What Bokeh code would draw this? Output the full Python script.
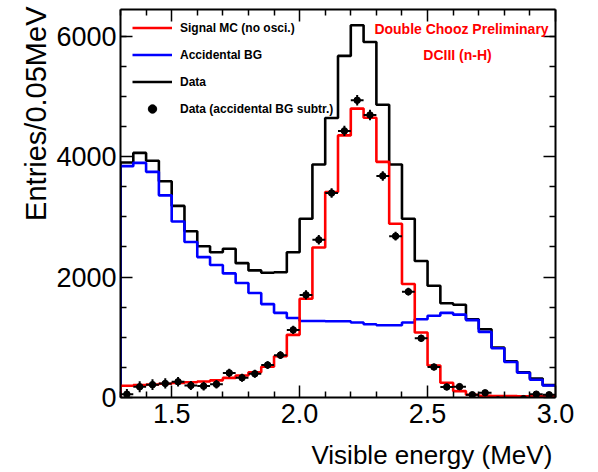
import numpy as np
from bokeh.plotting import figure
from bokeh.models import (Range1d, FixedTicker, LinearAxis, Label, Legend, LegendItem,
                          NumeralTickFormatter, ColumnDataSource, Title)
from bokeh.embed import file_html
from bokeh.resources import INLINE

# ---------------- data ----------------
bin_edges = [1.30, 1.35, 1.40, 1.45, 1.50, 1.55, 1.60, 1.65, 1.70, 1.75, 1.80, 1.85,
             1.90, 1.95, 2.00, 2.05, 2.10, 2.15, 2.20, 2.25, 2.30, 2.35, 2.40, 2.45,
             2.50, 2.55, 2.60, 2.65, 2.70, 2.75, 2.80, 2.85, 2.90, 2.95, 3.00]

data_counts = [3900, 4060, 3930, 3590, 3180, 2760, 2510, 2410, 2470, 2230, 2110, 2070,
               2080, 2410, 2967, 3867, 4640, 5670, 6178, 5900, 4860, 3867, 2967, 2265,
               1856, 1565, 1539, 1300, 1133, 830, 600, 420, 315, 205]

accidental_bg = [3840, 3895, 3745, 3355, 2920, 2580, 2330, 2200, 2060, 1900, 1735, 1550,
                 1405, 1320, 1270, 1270, 1265, 1265, 1245, 1215, 1200, 1200, 1244, 1300,
                 1356, 1405, 1375, 1285, 1089, 817, 590, 411, 295, 200]

signal_mc = [195, 205, 215, 228, 240, 252, 265, 285, 325, 365, 420, 510,
             685, 1040, 1640, 2489, 3411, 4350, 4795, 4644, 3911, 2883, 1883, 1078,
             530, 245, 106, 45, 30, 25, 22, 20, 20, 20]

data_subtracted = [55, 178, 213, 233, 261, 200, 189, 220, 408, 328, 394, 539,
                   703, 1122, 1703, 2617, 3394, 4425, 4933, 4689, 3678, 2678, 1756, 983,
                   506, 175, 180, 45, 78, -40, -60, -20, 55, 45]

data_subtracted_err = [88, 90, 89, 85, 80, 75, 71, 70, 70, 67, 65, 64,
                       65, 70, 77, 79, 80, 85, 88, 86, 79, 72, 65, 58,
                       55, 53, 53, 51, 48, 42, 35, 29, 25, 20]

x_major_ticks = [1.5, 2.0, 2.5, 3.0]
x_minor_ticks = [1.3, 1.4, 1.6, 1.7, 1.8, 1.9, 2.1, 2.2, 2.3, 2.4, 2.6, 2.7, 2.8, 2.9]
y_major_ticks = [0, 2000, 4000, 6000]
y_minor_ticks = [500, 1000, 1500, 2500, 3000, 3500, 4500, 5000, 5500, 6000]

legend_labels = ["Signal MC (no osci.)", "Accidental BG", "Data", "Data (accidental BG subtr.)"]
x_title = "Visible energy (MeV)"
y_title = "Entries/0.05MeV"

FONT = "Liberation Sans"

# ---------------- helpers ----------------
def step_xy(edges, vals):
    xs = [edges[0]]
    ys = [0]
    for i, v in enumerate(vals):
        xs += [edges[i], edges[i + 1]]
        ys += [v, v]
    return xs, ys

centers = [(bin_edges[i] + bin_edges[i + 1]) / 2 for i in range(len(bin_edges) - 1)]
half_w = [(bin_edges[i + 1] - bin_edges[i]) / 2 for i in range(len(bin_edges) - 1)]

# ---------------- figure ----------------
p = figure(width=598, height=472, output_backend="svg", toolbar_location=None,
           x_range=Range1d(1.3, 3.0), y_range=Range1d(0, 6440),
           min_border_left=120, min_border_right=43, min_border_top=9, min_border_bottom=74,
           title=None)
p.grid.visible = False
p.outline_line_color = None
p.background_fill_color = "white"
p.border_fill_color = "white"

def style_axis(ax, ticks, minor, show_labels):
    ax.ticker = FixedTicker(ticks=ticks, minor_ticks=minor)
    ax.axis_line_color = "black"
    ax.axis_line_width = 2
    ax.major_tick_line_color = "black"
    ax.minor_tick_line_color = "black"
    ax.major_tick_line_width = 1.5
    ax.minor_tick_line_width = 1.5
    ax.major_tick_out = 0
    ax.minor_tick_out = 0
    ax.major_tick_in = 12
    ax.minor_tick_in = 6
    if show_labels:
        ax.major_label_text_font = FONT
        ax.major_label_text_font_size = "27px"
        ax.major_label_text_color = "black"
    else:
        ax.major_label_overrides = {t: "" for t in ticks}
        ax.major_label_text_font_size = "0px"
        ax.major_label_standoff = 0

xa = p.xaxis[0]
style_axis(xa, x_major_ticks, x_minor_ticks, True)
xa.formatter = NumeralTickFormatter(format="0.0")
xa.major_label_standoff = 6
style_axis(p.yaxis[0], y_major_ticks, y_minor_ticks, True)
p.yaxis[0].major_label_standoff = 4

top_ax = LinearAxis()
style_axis(top_ax, x_major_ticks, x_minor_ticks, False)
p.add_layout(top_ax, "above")
right_ax = LinearAxis()
style_axis(right_ax, y_major_ticks, y_minor_ticks, False)
p.add_layout(right_ax, "right")

# x-axis title: centred label padded on its left with no-break spaces so that
# the visible words end at the frame's right edge, as in the reference
xa.axis_label = "\u00a0" * 26 + x_title
xa.axis_label_align = "center"
xa.axis_label_text_font = FONT
xa.axis_label_text_font_style = "normal"
xa.axis_label_text_font_size = "26px"
xa.axis_label_text_color = "black"
xa.axis_label_standoff = 14

p.add_layout(Title(text=y_title, align="right", text_font=FONT,
                   text_font_style="normal", text_font_size="29px", text_color="black",
                   standoff=3, offset=-3), "left")

# ---------------- histograms ----------------
bx, by = step_xy(bin_edges, data_counts)
r_black = p.line(bx, by, line_color="black", line_width=2.6)
ax_, ay_ = step_xy(bin_edges, accidental_bg)
r_blue = p.line(ax_, ay_, line_color="#0000ff", line_width=2.6)
sx_, sy_ = step_xy(bin_edges, signal_mc)
r_red = p.line(sx_, sy_, line_color="#ff0000", line_width=2.6)

pts = ColumnDataSource(dict(
    x=centers, y=data_subtracted,
    x0=[c - h for c, h in zip(centers, half_w)], x1=[c + h for c, h in zip(centers, half_w)],
    y0=[v - e for v, e in zip(data_subtracted, data_subtracted_err)],
    y1=[v + e for v, e in zip(data_subtracted, data_subtracted_err)],
))
p.segment(x0="x0", y0="y", x1="x1", y1="y", source=pts, line_color="black", line_width=2)
p.segment(x0="x", y0="y0", x1="x", y1="y1", source=pts, line_color="black", line_width=2)
r_pts = p.scatter(x="x", y="y", source=pts, size=6.5, marker="circle",
                  fill_color="black", line_color="black")

# ---------------- legend ----------------
legend = Legend(items=[LegendItem(label=legend_labels[0], renderers=[r_red]),
                       LegendItem(label=legend_labels[1], renderers=[r_blue]),
                       LegendItem(label=legend_labels[2], renderers=[r_black]),
                       LegendItem(label=legend_labels[3], renderers=[r_pts])],
                location=(12, 278), orientation="vertical",
                border_line_color=None, background_fill_alpha=0,
                padding=0, margin=0, spacing=6, glyph_width=40, glyph_height=21,
                label_height=21, label_standoff=8,
                label_text_font=FONT, label_text_font_style="bold",
                label_text_font_size="12px", label_text_color="black")
p.add_layout(legend)

# ---------------- texts ----------------
p.add_layout(Label(x=341, y=368.7, x_units="screen", y_units="screen",
                   text="Double Chooz Preliminary", text_color="#ff0000", text_font=FONT,
                   text_font_style="bold", text_font_size="14px",
                   text_align="center", text_baseline="middle"))
p.add_layout(Label(x=337, y=343, x_units="screen", y_units="screen",
                   text="DCIII (n-H)", text_color="#ff0000", text_font=FONT,
                   text_font_style="bold", text_font_size="14px",
                   text_align="center", text_baseline="middle"))

open("out.html", "w").write(file_html(p, INLINE))
